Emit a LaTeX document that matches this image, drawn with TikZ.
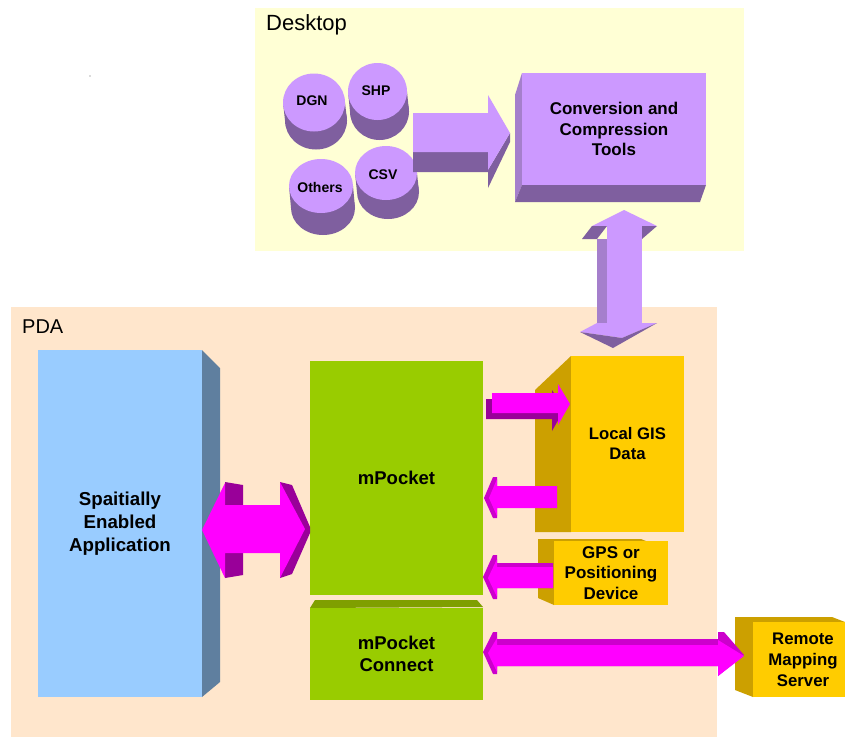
\documentclass[tikz,border=0pt]{standalone}
\usepackage{fontspec}
\setmainfont{Liberation Sans}
\definecolor{deskbg}{HTML}{FFFFD5}
\definecolor{pdabg}{HTML}{FFE6CC}
\definecolor{plight}{HTML}{CC99FF}
\definecolor{pmid}{HTML}{A57FCC}
\definecolor{pdark}{HTML}{7F5F9F}
\definecolor{mlight}{HTML}{FF00FF}
\definecolor{mmid}{HTML}{CC00CC}
\definecolor{mdark}{HTML}{990099}
\definecolor{blight}{HTML}{99CCFF}
\definecolor{bdark}{HTML}{5F7F9F}
\definecolor{glight}{HTML}{99CC00}
\definecolor{gdark}{HTML}{7F9F00}
\definecolor{ylight}{HTML}{FFCC00}
\definecolor{ydark}{HTML}{CCA000}
\newcommand\mycyl[5]{%
  \fill[pdark] (#1+2,#2+#5) ellipse [x radius=#3, y radius=#4];
  \fill[pdark] (#1-#3,#2) -- (#1+2-#3,#2+#5) -- (#1+2+#3,#2+#5) -- (#1+#3,#2) -- cycle;
  \fill[plight] (#1,#2) ellipse [x radius=#3, y radius=#4];
}
\begin{document}
\begin{tikzpicture}[x=1pt,y=-1pt,
  box/.style={inner sep=0pt, outer sep=0pt, align=center, text=black},
  bigtxt/.style={font=\bfseries\fontsize{18.7pt}{23pt}\selectfont},
  midtxt/.style={font=\bfseries\fontsize{18.5pt}{22pt}\selectfont},
  smalltxt/.style={font=\bfseries\fontsize{17pt}{20.5pt}\selectfont},
  cyltxt/.style={font=\bfseries\fontsize{14pt}{16pt}\selectfont, inner sep=0pt},
  arealbl/.style={font=\fontsize{22pt}{24pt}\selectfont, inner sep=0pt, anchor=base west}]
\useasboundingbox (0,0) rectangle (845,737);
\fill[white] (0,0) rectangle (845,737);
\fill[black!60] (90,76) circle (0.6);

% ---------- Desktop ----------
\fill[deskbg] (255,8) rectangle (744,251);
\node[arealbl] (desk) at (266,30) {Desktop};

\mycyl{314}{102.5}{31}{29}{18}
\node[cyltxt] (dgn) at (312,101) {DGN};
\mycyl{377.5}{91.5}{29.5}{28.5}{20}
\node[cyltxt] (shp) at (376,91) {SHP};
\mycyl{321}{186}{32}{27}{22}
\node[cyltxt] (oth) at (320,187) {Others};
\mycyl{386}{173}{31}{27}{19}
\node[cyltxt] (csv) at (383,175) {CSV};

% big right arrow
\fill[pdark] (413,152) -- (488,152) -- (488,170) -- (510,133) -- (510,142) -- (488,188) -- (488,172) -- (413,172) -- cycle;
\fill[plight] (413,113) -- (488,113) -- (488,95) -- (510,133) -- (488,170) -- (488,152) -- (413,152) -- cycle;

% conversion box
\fill[pmid] (515,95) -- (522,73) -- (522,185) -- (515,202) -- cycle;
\fill[pdark] (522,185) -- (706,185) -- (700,202) -- (515,202) -- cycle;
\node[box, smalltxt, fill=plight, minimum width=184pt, minimum height=112pt] (conv) at (614,129) {Conversion and\\Compression\\Tools};

% ---------- PDA ----------
\fill[pdabg] (11,307) rectangle (717,737);
\node[arealbl, font=\fontsize{20pt}{24pt}\selectfont] (pda) at (22,333) {PDA};

% vertical double arrow
\fill[plight] (607,226) rectangle (642,323);
\fill[pmid] (597,239) rectangle (607,323);
\fill[plight] (624,210) -- (592,226) -- (657,226) -- cycle;
\fill[pdark] (582,239) -- (592,226) -- (607,226) -- (597,239) -- cycle;
\fill[pdark] (642,226) -- (657,226) -- (642,239) -- cycle;
\fill[plight] (580,332) -- (597,323) -- (657,323) -- (622,338) -- cycle;
\fill[pdark] (580,332) -- (622,338) -- (657,323) -- (613,348) -- cycle;

% spatially enabled application
\fill[bdark] (202,350) -- (220,368) -- (220,682) -- (202,697) -- cycle;
\node[box, bigtxt, fill=blight, minimum width=164pt, minimum height=347pt] (app) at (120,523.5) {Spaitially\\Enabled\\Application};

% mPocket
\node[box, midtxt, fill=glight, minimum width=173pt, minimum height=234pt] (mp) at (396.5,478) {mPocket};
\fill[gdark] (310,608) -- (315,600) -- (477,600) -- (483,607) -- cycle;
\node[box, midtxt, fill=glight, minimum width=173pt, minimum height=92pt] (mpc) at (396.5,654) {mPocket\\Connect};

% Local GIS data
\fill[ydark] (535,390) -- (571,356) -- (571,532) -- (535,532) -- cycle;
\node[box, font=\bfseries\fontsize{16.7pt}{20pt}\selectfont, fill=ylight, minimum width=113pt, minimum height=176pt] (gis) at (627.5,444) {Local GIS\\Data};

% GPS
\fill[ydark] (538,539) -- (641,539) -- (646,541) -- (554,541) -- (554,605) -- (538,598) -- cycle;
\node[box, smalltxt, fill=ylight, minimum width=114pt, minimum height=64pt] (gps) at (611,573) {GPS or\\Positioning\\Device};

% Remote mapping server
\fill[ydark] (735,617) -- (832,617) -- (845,622) -- (753,622) -- (753,697) -- (735,690) -- cycle;
\node[box, font=\bfseries\fontsize{16.8pt}{21pt}\selectfont, fill=ylight, minimum width=100pt, minimum height=75pt] (rms) at (803,659.5) {Remote\\Mapping\\Server};

% ---------- magenta arrows ----------
% app <-> mPocket
\fill[mdark] (225,482) -- (243,485) -- (243,505) -- (225,505) -- cycle;
\fill[mdark] (225,553) -- (243,553) -- (243,575) -- (225,578) -- cycle;
\fill[mdark] (280,482) -- (292,485) -- (310,527) -- (310,533) -- (292,574) -- (280,578) -- cycle;
\fill[mlight] (202,530) -- (225,483) -- (225,505) -- (280,505) -- (280,482) -- (305,529) -- (280,578) -- (280,553) -- (225,553) -- (225,578) -- cycle;

% mPocket -> Local GIS
\fill[mdark] (486,399) -- (552,399) -- (552,390) -- (564,410) -- (552,431) -- (552,419) -- (486,419) -- cycle;
\fill[mlight] (492,393) -- (558,393) -- (558,384) -- (570,404) -- (558,425) -- (558,413) -- (492,413) -- cycle;

% Local GIS -> mPocket
\fill[mmid] (484,498) -- (493,477) -- (497,477) -- (497,518) -- (493,518) -- cycle;
\fill[mlight] (557,486) -- (497,486) -- (497,479) -- (489,498) -- (497,516) -- (497,508) -- (557,508) -- cycle;

% GPS -> mPocket
\fill[mmid] (553,563) -- (497,563) -- (497,555) -- (493,555) -- (483,577) -- (493,599) -- (497,599) -- (497,588) -- (553,588) -- cycle;
\fill[mlight] (553,567) -- (497,567) -- (497,559) -- (488,578) -- (497,597) -- (497,588) -- (553,588) -- cycle;

% mPocket Connect <-> Remote
\fill[mmid] (483,652) -- (493,632) -- (497,632) -- (497,639) -- (718,639) -- (718,632) -- (724,632) -- (744,655) -- (718,676) -- (718,666) -- (497,666) -- (497,674) -- (493,674) -- cycle;
\fill[mlight] (488,653) -- (497,638) -- (497,645) -- (718,645) -- (718,640) -- (744,656) -- (718,676) -- (718,666) -- (497,666) -- (497,672) -- cycle;
\end{tikzpicture}
\end{document}
